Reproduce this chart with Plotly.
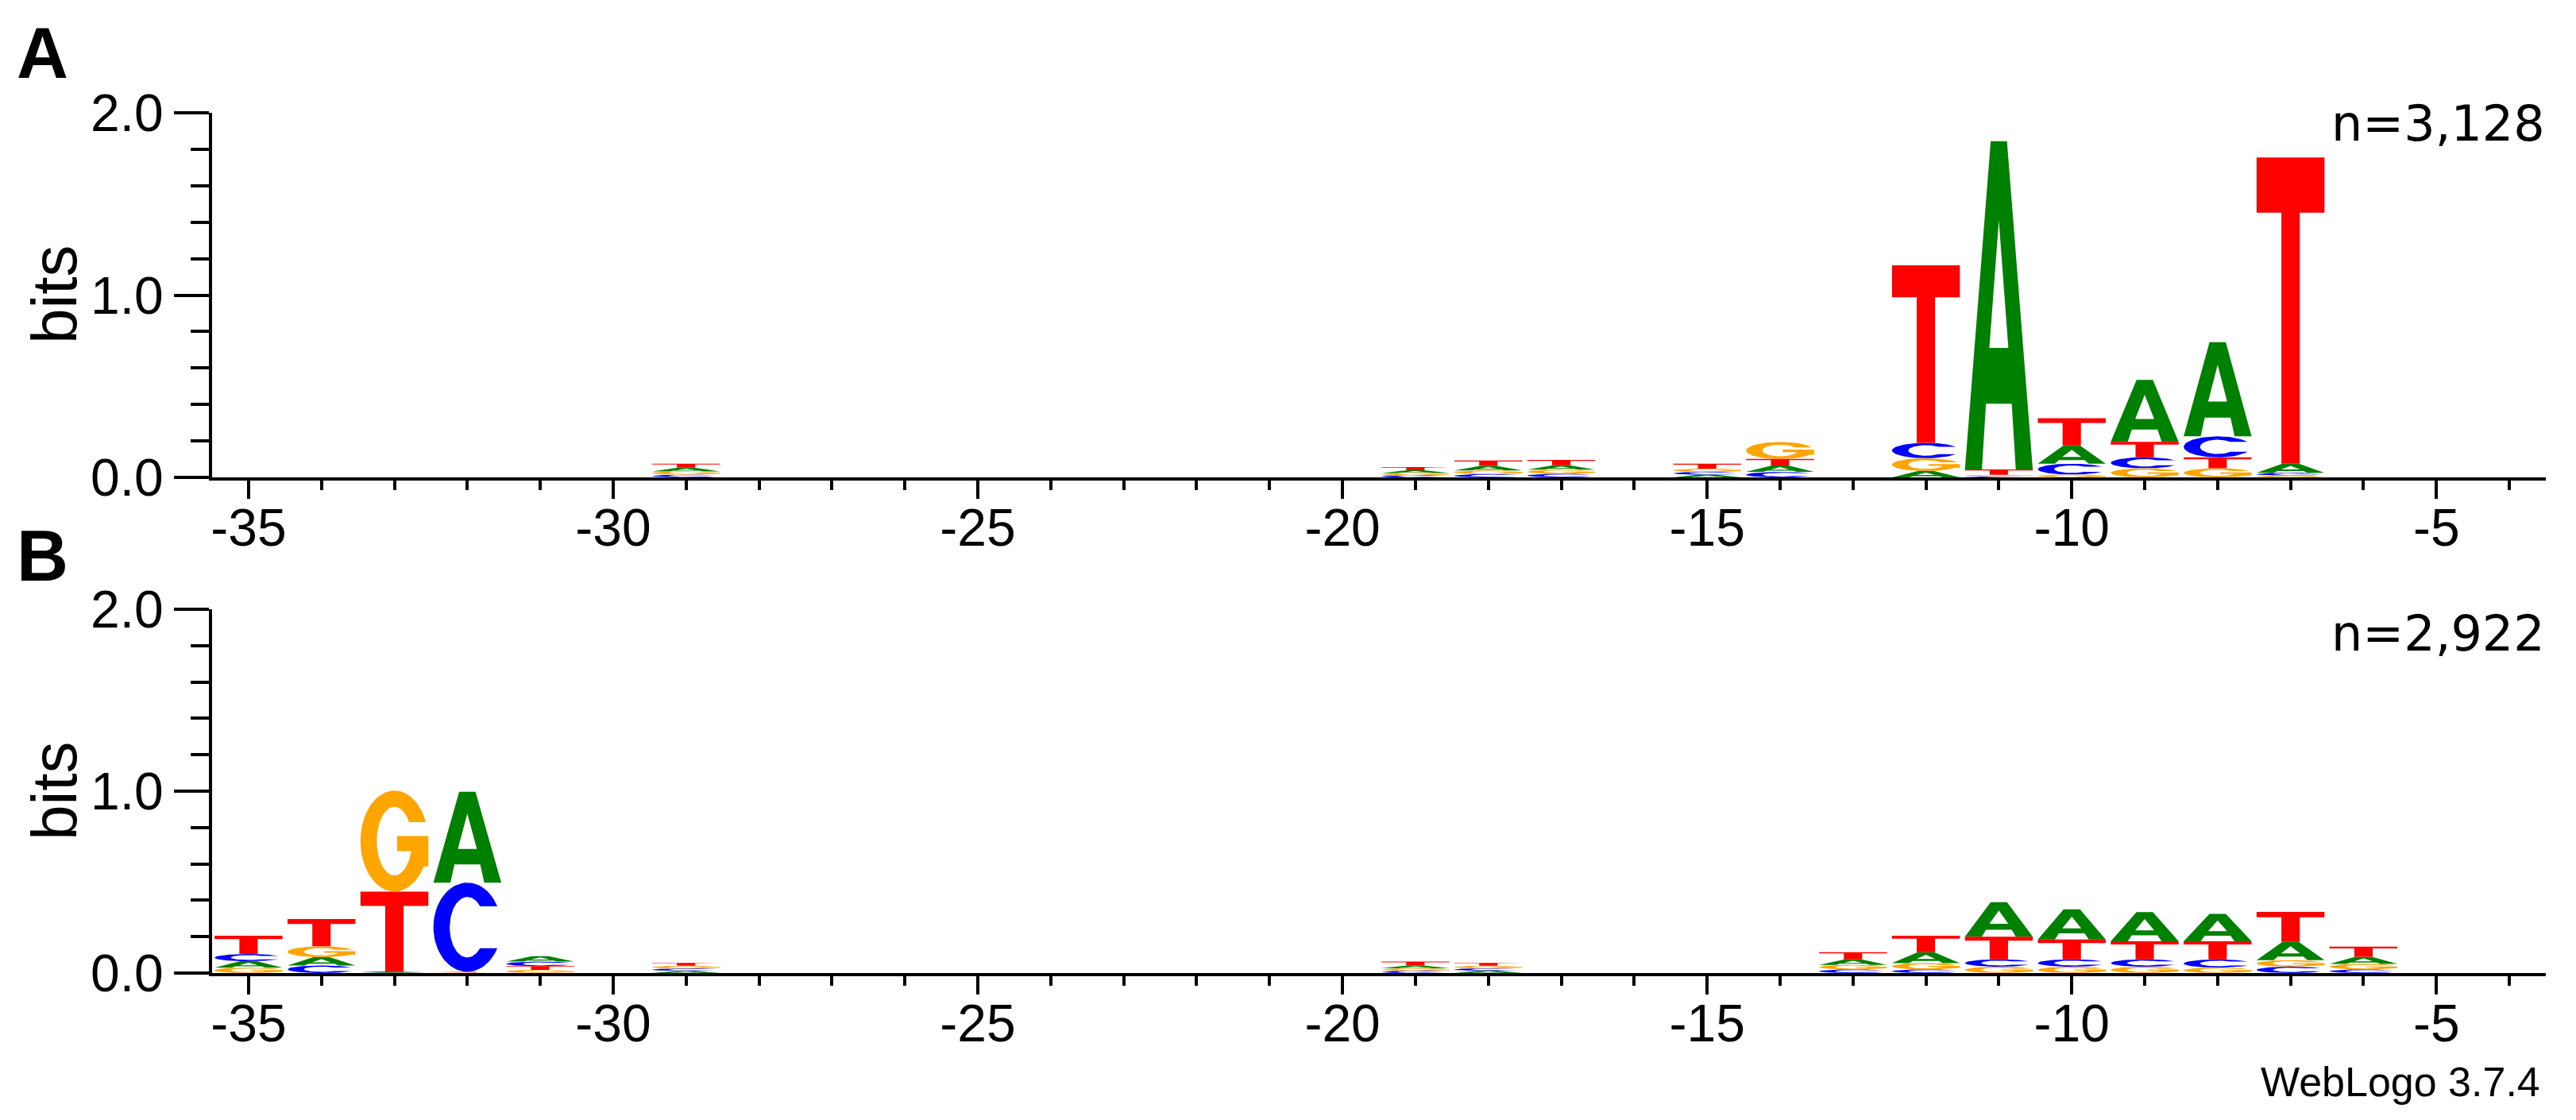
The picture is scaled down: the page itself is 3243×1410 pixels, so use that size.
import math
import plotly.graph_objects as go

# ---------------- data ----------------
positions = [-35, -34, -33, -32, -31, -30, -29, -28, -27, -26, -25, -24, -23, -22, -21, -20,
             -19, -18, -17, -16, -15, -14, -13, -12, -11, -10, -9, -8, -7, -6, -5, -4]
nucleotides = ["A", "C", "G", "T"]

# Panel A (n=3,128) information content per letter, bits
panelA_A = [0, 0, 0, 0, 0, 0, 0.020, 0, 0, 0, 0, 0, 0, 0, 0, 0,
            0.015, 0.025, 0.024, 0, 0.015, 0.035, 0, 0.035, 1.800, 0.100, 0.340, 0.517, 0.050, 0, 0, 0]
panelA_C = [0, 0, 0, 0, 0, 0, 0.015, 0, 0, 0, 0, 0, 0, 0, 0, 0,
            0.012, 0.018, 0.020, 0, 0.015, 0.030, 0, 0.085, 0.006, 0.060, 0.060, 0.115, 0.015, 0, 0, 0]
panelA_G = [0, 0, 0, 0, 0, 0, 0.018, 0, 0, 0, 0, 0, 0, 0, 0, 0,
            0.012, 0.020, 0.022, 0, 0.018, 0.093, 0, 0.070, 0.008, 0.015, 0.050, 0.050, 0.010, 0, 0, 0]
panelA_T = [0, 0, 0, 0, 0, 0, 0.022, 0, 0, 0, 0, 0, 0, 0, 0, 0,
            0.018, 0.030, 0.030, 0, 0.027, 0.036, 0, 0.973, 0.030, 0.150, 0.085, 0.060, 1.680, 0, 0, 0]

# Panel B (n=2,922)
panelB_A = [0.035, 0.045, 0.004, 0.500, 0.030, 0, 0.012, 0, 0, 0, 0, 0, 0, 0, 0, 0,
            0.015, 0.013, 0, 0, 0, 0, 0.030, 0.060, 0.190, 0.165, 0.160, 0.150, 0.100, 0.040, 0, 0]
panelB_C = [0.040, 0.042, 0.004, 0.490, 0.025, 0, 0.013, 0, 0, 0, 0, 0, 0, 0, 0, 0,
            0.012, 0.013, 0, 0, 0, 0, 0.020, 0.020, 0.040, 0.040, 0.040, 0.045, 0.035, 0.020, 0, 0]
panelB_G = [0.030, 0.060, 0.555, 0.003, 0.018, 0, 0.015, 0, 0, 0, 0, 0, 0, 0, 0, 0,
            0.014, 0.014, 0, 0, 0, 0, 0.025, 0.035, 0.035, 0.035, 0.035, 0.030, 0.036, 0.030, 0, 0]
panelB_T = [0.100, 0.150, 0.440, 0.004, 0.020, 0, 0.016, 0, 0, 0, 0, 0, 0, 0, 0, 0,
            0.022, 0.016, 0, 0, 0, 0, 0.040, 0.090, 0.125, 0.110, 0.100, 0.100, 0.165, 0.055, 0, 0]

x_tick_vals = [-35, -30, -25, -20, -15, -10, -5]
x_tick_text = ["-35", "-30", "-25", "-20", "-15", "-10", "-5"]
y_tick_vals = [0, 1, 2]
y_tick_text = ["0.0", "1.0", "2.0"]
panel_labels = ["A", "B"]
sample_sizes = ["n=3,128", "n=2,922"]
credit = "WebLogo 3.7.4"

colors = {"A": "#008000", "C": "#0000FF", "G": "#FFA500", "T": "#FF0000"}

# ---------------- glyph outlines (unit box) ----------------
def arc(rx, ry, t0, t1, n=48):
    pts = []
    for i in range(n + 1):
        t = math.radians(t0 + (t1 - t0) * i / n)
        pts.append((0.5 + rx * math.cos(t), 0.5 + ry * math.sin(t)))
    return pts

RO_X, RO_Y = 0.5, 0.5
RI_X, RI_Y = 0.26, 0.34

def glyph_A():
    outer = [(0.31, 0.2), (0.25, 0.0), (0.0, 0.0), (0.38, 1.0), (0.62, 1.0),
             (1.0, 0.0), (0.75, 0.0), (0.69, 0.2), (0.31, 0.2)]
    hole = [(0.36, 0.37), (0.64, 0.37), (0.5, 0.76), (0.36, 0.37)]
    return outer + hole + [(0.31, 0.2)]

def glyph_T():
    return [(0.0, 1.0), (1.0, 1.0), (1.0, 0.82), (0.635, 0.82), (0.635, 0.0),
            (0.365, 0.0), (0.365, 0.82), (0.0, 0.82), (0.0, 1.0)]

def glyph_C():
    to = 28.0
    vo = 0.5 + RO_Y * math.sin(math.radians(to))
    ti = math.degrees(math.asin((vo - 0.5) / RI_Y))
    pts = arc(RO_X, RO_Y, to, 360 - to, 64)
    pts += arc(RI_X, RI_Y, 360 - ti, ti, 64)
    pts.append(pts[0])
    return pts

def glyph_G():
    to = 22.0
    vo = 0.5 + RO_Y * math.sin(math.radians(to))
    ti = math.degrees(math.asin((vo - 0.5) / RI_Y))
    pts = arc(RO_X, RO_Y, to, 330, 64)
    end = pts[-1]
    pts += [(1.0, end[1]), (1.0, 0.55), (0.54, 0.55), (0.54, 0.40)]
    tb = math.degrees(math.asin((0.40 - 0.5) / RI_Y))  # negative
    pts += arc(RI_X, RI_Y, tb, ti - 360, 64)
    pts.append(pts[0])
    return pts

GLYPHS = {"A": glyph_A(), "C": glyph_C(), "G": glyph_G(), "T": glyph_T()}
LETTER_W = 0.93

fig = go.Figure()

def add_logo(heights, xa, ya):
    xs = {n: [] for n in nucleotides}
    ys = {n: [] for n in nucleotides}
    for i, pos in enumerate(positions):
        col = sorted([(heights[n][i], k, n) for k, n in enumerate(nucleotides)])
        base = 0.0
        for h, _, n in col:
            if h > 0:
                for (u, v) in GLYPHS[n]:
                    xs[n].append(pos - LETTER_W / 2 + u * LETTER_W)
                    ys[n].append(base + v * h)
                xs[n].append(None)
                ys[n].append(None)
            base += h
    for n in nucleotides:
        fig.add_trace(go.Scatter(
            x=xs[n], y=ys[n], xaxis=xa, yaxis=ya, mode="lines", fill="toself",
            fillcolor=colors[n], line=dict(width=0, color=colors[n]),
            hoverinfo="skip", showlegend=False))

add_logo({"A": panelA_A, "C": panelA_C, "G": panelA_G, "T": panelA_T}, "x", "y")
add_logo({"A": panelB_A, "C": panelB_C, "G": panelB_G, "T": panelB_T}, "x2", "y2")

# ---------------- layout ----------------
W, H = 3243, 1410
XL, XR = 267, 3205
def fx(p):
    return p / W
def fy(p):
    return 1 - p / H

TICKFONT = dict(family="Liberation Sans, Arial, sans-serif", size=66, color="black")

def xaxis_cfg(anchor):
    return dict(
        domain=[fx(XL), fx(XR)], range=[-35.5, -3.5], anchor=anchor, automargin=False,
        showline=True, linecolor="black", linewidth=4, mirror=False,
        showgrid=False, zeroline=False,
        ticks="outside", tickmode="array", tickvals=x_tick_vals, ticktext=x_tick_text,
        ticklen=23, tickwidth=4, tickcolor="black", tickfont=TICKFONT,
        ticklabelstandoff=-20,
        minor=dict(tickmode="linear", tick0=-35, dtick=1, ticks="outside",
                   ticklen=12, tickwidth=4, tickcolor="black", showgrid=False),
        fixedrange=True)

def yaxis_cfg(anchor, top_px, bot_px):
    return dict(
        domain=[fy(bot_px), fy(top_px)], range=[0, 2], anchor=anchor, automargin=False,
        showline=True, linecolor="black", linewidth=4, mirror=False,
        showgrid=False, zeroline=False,
        ticks="outside", tickmode="array", tickvals=y_tick_vals, ticktext=y_tick_text,
        ticklen=44, tickwidth=4, tickcolor="black", tickfont=TICKFONT,
        minor=dict(tickmode="linear", tick0=0, dtick=0.2, ticks="outside",
                   ticklen=23, tickwidth=4, tickcolor="black", showgrid=False),
        fixedrange=True)

annotations = []
label_y = [67, 700]
bits_y = [371, 996]
n_y = [155, 797]
for k in range(2):
    annotations.append(dict(
        text=panel_labels[k], x=fx(53), y=fy(label_y[k]), xref="paper", yref="paper",
        xanchor="center", yanchor="middle", showarrow=False,
        font=dict(family="Liberation Sans, Arial, sans-serif", size=90, color="black", weight="bold")))
    annotations.append(dict(
        text="bits", x=fx(68), y=fy(bits_y[k]), xref="paper", yref="paper",
        xanchor="center", yanchor="middle", showarrow=False, textangle=-90,
        font=dict(family="Liberation Sans, Arial, sans-serif", size=80, color="black")))
    annotations.append(dict(
        text=sample_sizes[k], x=fx(3206), y=fy(n_y[k]), xref="paper", yref="paper",
        xanchor="right", yanchor="middle", showarrow=False,
        font=dict(family="DejaVu Sans, sans-serif", size=62, color="black")))
annotations.append(dict(
    text=credit, x=fx(3200), y=fy(1362), xref="paper", yref="paper",
    xanchor="right", yanchor="middle", showarrow=False,
    font=dict(family="Liberation Sans Narrow, Liberation Sans, Arial, sans-serif", size=52, color="black")))

fig.update_layout(
    width=W, height=H, margin=dict(l=0, r=0, t=0, b=0, pad=0, autoexpand=False),
    paper_bgcolor="white", plot_bgcolor="white",
    xaxis=xaxis_cfg("y"), yaxis=yaxis_cfg("x", 142, 601),
    xaxis2=xaxis_cfg("y2"), yaxis2=yaxis_cfg("x2", 767, 1225),
    annotations=annotations, showlegend=False)

fig.write_html("out.html", config={"displayModeBar": False, "staticPlot": True},
               post_script="document.body.style.margin='0';document.body.style.overflow='hidden';")
